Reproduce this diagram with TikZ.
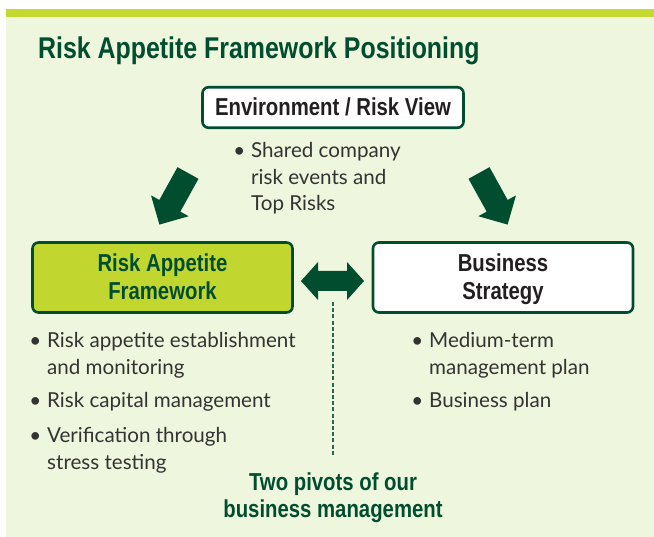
\documentclass[tikz,border=0pt]{standalone}
\usepackage{fontspec}
\setmainfont{Lato}
\newfontfamily\condfont[FakeStretch=0.83]{Liberation Sans}
\usetikzlibrary{calc}
\definecolor{rafgreen}{HTML}{004D30}
\definecolor{raflime}{HTML}{C1D72F}
\definecolor{rafbar}{HTML}{C3D92F}
\definecolor{rafback}{HTML}{EEF6DE}
\definecolor{rafgray}{HTML}{333333}
\definecolor{rafink}{HTML}{231F20}
\newcommand{\bul}{\llap{\textbullet\hspace{6pt}}}
\newcommand{\lines}[2][l]{\begin{tabular}[t]{@{}#1@{}}#2\end{tabular}}
\newcommand{\boxlines}[1]{\raisebox{-2pt}[\height][\depth]{\begin{tabular}{@{}c@{}}#1\end{tabular}}}
\tikzset{
  headbox/.style={
    draw=rafgreen,
    line width=2.6pt,
    rounded corners=6pt,
    minimum width=260pt,
    minimum height=70pt,
    inner sep=0pt,
    font=\condfont\bfseries\fontsize{24.5}{28}\selectfont
  },
  headtext/.style={
    inner sep=0pt,
    text=rafgreen,
    font=\condfont\bfseries\fontsize{24.5}{28}\selectfont
  },
  itemtext/.style={
    anchor=base west,
    inner sep=0pt,
    text=rafgray,
    font=\fontsize{20.6}{26.5}\selectfont
  },
  pivotline/.style={
    draw=rafgreen!85,
    line width=1.4pt,
    dash pattern=on 4pt off 2.2pt
  }
}
\tikzset{
  fatarrow/.pic={
    \fill[rafgreen] (0,-12)--(37.5,-12)--(37.5,-21.5)--(59,0)--(37.5,21.5)--(37.5,12)--(0,12)--cycle;
  }
}
\tikzset{
  twoway/.pic={
    \fill[rafgreen] (-31.5,0)--(-14.5,19)--(-14.5,10)--(14.5,10)--(14.5,19)--(31.5,0)
      --(14.5,-19)--(14.5,-10)--(-14.5,-10)--(-14.5,-19)--cycle;
  }
}
\begin{document}
\begin{tikzpicture}[x=1pt,y=1pt]
  \useasboundingbox (0,0) rectangle (654,-537);
  \fill[rafback] (6,-9.5) rectangle (654,-537);
  \fill[rafbar] (6,-9.5) rectangle (654,-17);
  \node[headtext, anchor=base west, font=\condfont\bfseries\fontsize{30}{34}\selectfont] (title) at (38,-59) {Risk Appetite Framework Positioning};
  % boxes
  \node[headbox, fill=white, text=rafink, minimum width=261pt, minimum height=40.5pt,
        text height=19.5pt, text depth=3pt] (envbox) at (333,-107.5) {Environment / Risk View};
  \node[headbox, fill=raflime, text=rafgreen] (rafbox) at (162.5,-277.5) {\boxlines{Risk Appetite\\Framework}};
  \node[headbox, fill=white, text=rafink] (bizbox) at (503,-277.5) {\boxlines{Business\\Strategy}};
  % arrows
  \pic (arrowl) [rotate=241] at (188,-173) {fatarrow};
  \pic (arrowr) [rotate=299] at (479,-173) {fatarrow};
  \pic (link) at (332.5,-281) {twoway};
  % bullet lists
  \node[itemtext] (envitem) at (251,-158) {\lines{\bul Shared company\\risk events and\\Top Risks}};
  \node[itemtext] (rafitema) at (47,-348) {\lines{\bul Risk appetite establishment\\and monitoring}};
  \node[itemtext] (rafitemb) at (47,-408) {\lines{\bul Risk capital management}};
  \node[itemtext] (rafitemc) at (47,-443) {\lines{\bul Verification through\\stress testing}};
  \node[itemtext] (bizitema) at (429,-348) {\lines{\bul Medium-term\\management plan}};
  \node[itemtext] (bizitemb) at (429,-408) {\lines{\bul Business plan}};
  % pivots
  \node[headtext, anchor=base] (twopivots) at (333,-490) {\lines[c]{Two pivots of our\\business management}};
  \coordinate (pivot) at (333,-302);
  \coordinate (pivotend) at (333,-456);
  \draw[pivotline] (pivot) -- (pivotend);
\end{tikzpicture}
\end{document}
